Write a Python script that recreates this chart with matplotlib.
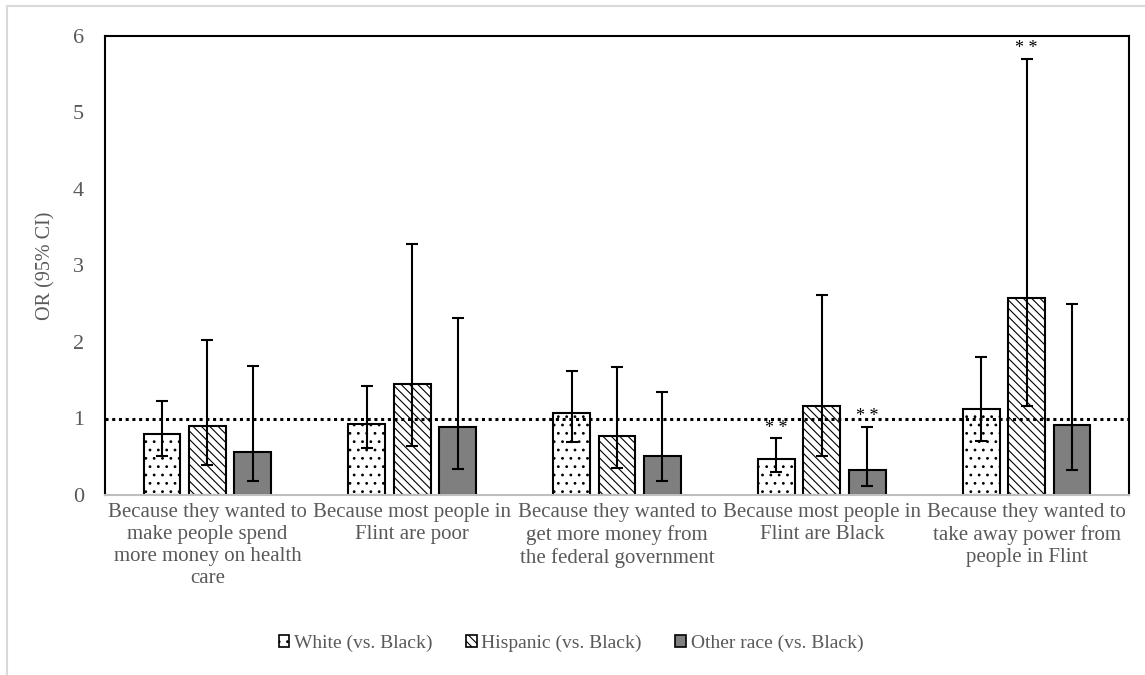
import matplotlib
matplotlib.use("Agg")
import matplotlib.pyplot as plt
from matplotlib.patches import Patch, Rectangle
import numpy as np

plt.rcParams['font.family'] = ['Liberation Serif', 'DejaVu Serif']
plt.rcParams['hatch.linewidth'] = 0.8

categories = [
    "Because they wanted to\nmake people spend\nmore money on health\ncare",
    "Because most people in\nFlint are poor",
    "Because they wanted to\nget more money from\nthe federal government",
    "Because most people in\nFlint are Black",
    "Because they wanted to\ntake away power from\npeople in Flint",
]
series = ["White (vs. Black)", "Hispanic (vs. Black)", "Other race (vs. Black)"]

white_or = [0.80, 0.93, 1.07, 0.47, 1.12]
white_lo = [0.51, 0.61, 0.69, 0.30, 0.71]
white_hi = [1.23, 1.42, 1.62, 0.74, 1.80]

hisp_or = [0.90, 1.45, 0.77, 1.16, 2.58]
hisp_lo = [0.39, 0.64, 0.35, 0.51, 1.16]
hisp_hi = [2.03, 3.28, 1.67, 2.62, 5.70]

other_or = [0.56, 0.89, 0.51, 0.33, 0.91]
other_lo = [0.18, 0.34, 0.18, 0.12, 0.33]
other_hi = [1.68, 2.32, 1.35, 0.89, 2.50]

# significance markers: (series index, category index)
sig = [(0, 3), (2, 3), (1, 4)]

fig = plt.figure(figsize=(11.45, 6.75), dpi=100)
fig.patches.append(Rectangle((7 / 1145, -0.05), 1.1, 1 - 6 / 675 + 0.05, transform=fig.transFigure,
                             fill=False, edgecolor='#d9d9d9', linewidth=1.5))
ax = fig.add_axes([105 / 1145, 1 - 495 / 675, 1024 / 1145, 459 / 675])

x = np.arange(len(categories))
w = 0.18
off = 0.222
styles = [
    dict(facecolor='white', hatch='..', edgecolor='black'),
    dict(facecolor='white', hatch='\\\\\\\\', edgecolor='black'),
    dict(facecolor='#7f7f7f', hatch=None, edgecolor='black'),
]
data = [(white_or, white_lo, white_hi), (hisp_or, hisp_lo, hisp_hi), (other_or, other_lo, other_hi)]
for i, (vals, lo, hi) in enumerate(data):
    pos = x + (i - 1) * off
    vals = np.array(vals); lo = np.array(lo); hi = np.array(hi)
    ax.bar(pos, vals, width=w, linewidth=1.5, zorder=2, **styles[i])
    ax.errorbar(pos, vals, yerr=[vals - lo, hi - vals], fmt='none', ecolor='black',
                elinewidth=1.5, capsize=4.5, capthick=1.5, zorder=3)
for si, ci in sig:
    hi = data[si][2][ci]
    ax.text(x[ci] + (si - 1) * off, hi + 0.02, "* *", ha='center', va='bottom', fontsize=13, color='black')

ax.axhline(1.0, color='black', linestyle=(0, (1, 1.2)), linewidth=2.2, zorder=4)

ax.set_xlim(-0.5, len(categories) - 0.5)
ax.set_ylim(0, 6)
ax.set_yticks(range(0, 7))
ax.tick_params(axis='y', length=0, labelsize=16, labelcolor='#595959', pad=15)
ax.set_xticks(x)
ax.set_xticklabels(categories, fontsize=15, color='#595959', linespacing=1.2)
ax.tick_params(axis='x', length=0, pad=6)
ax.set_ylabel("OR (95% CI)", fontsize=14.5, color='#595959')
ax.yaxis.set_label_coords(-50 / 1024, 0.5)
for s in ['left', 'right', 'top']:
    ax.spines[s].set_color('black')
    ax.spines[s].set_linewidth(1.5)
ax.spines['bottom'].set_color('#bfbfbf')
ax.spines['bottom'].set_linewidth(1.5)

handles = [Patch(label=series[i], linewidth=1.2, **styles[i]) for i in range(3)]
fig.legend(handles=handles, loc='center', bbox_to_anchor=(571 / 1145, 1 - 643 / 675), ncol=3,
           frameon=False, fontsize=14, handlelength=0.55, handleheight=0.55,
           handletextpad=0.25, columnspacing=1.7, labelcolor='#595959')

fig.savefig("out.png", dpi=100)
